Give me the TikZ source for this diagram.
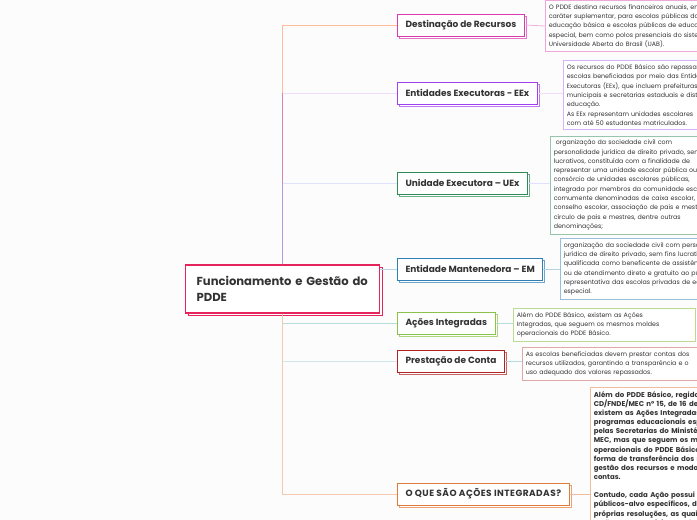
\documentclass[tikz,border=0pt]{standalone}
\usepackage{fontspec}
\setmainfont{Poppins}
\usetikzlibrary{shadows}

\definecolor{ink}{HTML}{333333}
\definecolor{paper}{HTML}{FCFCFC}
\definecolor{rootc}{HTML}{E5245E}
\definecolor{destc}{HTML}{DA3AB0}
\definecolor{eexc}{HTML}{A040F0}
\definecolor{uexc}{HTML}{2E8B57}
\definecolor{emc}{HTML}{2F7FB5}
\definecolor{acoc}{HTML}{8BC34A}
\definecolor{presc}{HTML}{B22222}
\definecolor{oquec}{HTML}{E07B39}

\begin{document}
\begin{tikzpicture}[x=1pt,y=-1pt,
	every node/.style={font=\fontsize{6.3}{9.3}\selectfont, text=ink},
	hub/.style={draw=rootc, line width=1.2pt, fill=white, copy shadow={draw=rootc, fill=white, shadow xshift=2.5pt, shadow yshift=-2.5pt},
		font=\fontsize{11.6}{16}\selectfont\bfseries, align=left, text width=172pt, minimum height=48pt, inner xsep=11pt, anchor=west},
	topic/.style={draw=#1, line width=1pt, fill=white, copy shadow={draw=#1!70, fill=white, shadow xshift=2pt, shadow yshift=-2pt},
		font=\fontsize{9}{10}\selectfont\bfseries, minimum height=22pt, inner xsep=8pt, anchor=west},
	note/.style={draw=#1, line width=0.6pt, fill=white, align=left, anchor=west, inner xsep=3.5pt, inner ysep=4pt},
	link/.style={draw=#1, line width=1pt}]
	\fill[paper] (0,0) rectangle (697,520);
	\useasboundingbox (0,0) rectangle (697,520);
	\clip (0,0) rectangle (697,520);

	% main topics
	\node[hub] (root) at (185,289) {Funcionamento e Gestão do\\PDDE};
	\node[topic=destc] (dest) at (397,25) {Destinação de Recursos};
	\node[topic=eexc] (eex) at (397,93) {Entidades Executoras - EEx};
	\node[topic=uexc] (uex) at (397,183) {Unidade Executora -- UEx};
	\node[topic=emc] (em) at (397,269) {Entidade Mantenedora -- EM};
	\node[topic=acoc] (aco) at (397,323) {Ações Integradas};
	\node[topic=presc] (pres) at (397,361) {Prestação de Conta};
	\node[topic=oquec] (oque) at (397,494) {\addfontfeature{LetterSpace=5}O QUE SÃO AÇÕES INTEGRADAS?};

	% notes
	\node[note=destc!45, text width=200pt] (ndest) at (545,26) {O PDDE destina recursos financeiros anuais, em\\caráter suplementar, para escolas públicas da\\educação básica e escolas públicas de educação\\especial, bem como polos presenciais do sistema\\Universidade Aberta do Brasil (UAB).};
	\node[note=eexc!40, text width=200pt] (neex) at (563,95) {Os recursos do PDDE Básico são repassados às\\escolas beneficiadas por meio das Entidades\\Executoras (EEx), que incluem prefeituras\\municipais e secretarias estaduais e distritais de\\educação.\\As EEx representam unidades escolares\\com até 50 estudantes matriculados.};
	\node[note=uexc!50, text width=200pt] (nuex) at (550,185) {\ organização da sociedade civil com\\personalidade jurídica de direito privado, sem fins\\lucrativos, constituída com a finalidade de\\representar uma unidade escolar pública ou um\\consórcio de unidades escolares públicas,\\integrada por membros da comunidade escolar,\\comumente denominadas de caixa escolar,\\conselho escolar, associação de pais e mestres,\\círculo de pais e mestres, dentre outras\\denominações;};
	\node[note=emc!50, text width=200pt] (nem) at (560,269) {organização da sociedade civil com personalidade\\jurídica de direito privado, sem fins lucrativos,\\qualificada como beneficente de assistência social,\\ou de atendimento direto e gratuito ao público,\\representativa das escolas privadas de educação\\especial.};
	\node[note=acoc!60, text width=175pt] (naco) at (513,325) {Além do PDDE Básico, existem as Ações\\Integradas, que seguem os mesmos moldes\\operacionais do PDDE Básico.};
	\node[note=presc!40, text width=200pt] (npres) at (522,364) {As escolas beneficiadas devem prestar contas dos\\recursos utilizados, garantindo a transparência e o\\uso adequado dos valores repassados.};
	\node[note=oquec!50, text width=200pt, anchor=north west, font=\fontsize{7}{9.15}\selectfont\bfseries] (noque) at (590,387) {Além do PDDE Básico, regido pela Resolução\\CD/FNDE/MEC nº 15, de 16 de setembro de 2021,\\existem as Ações Integradas, que são\\programas educacionais específicos criados\\pelas Secretarias do Ministério da Educação -\\MEC, mas que seguem os mesmos moldes\\operacionais do PDDE Básico quanto à\\forma de transferência dos recursos,\\gestão dos recursos e modo de prestação de\\contas.\\[9.1pt]Contudo, cada Ação possui finalidades e\\públicos-alvo específicos, descritos em suas\\próprias resoluções, as quais\\estão sempre sujeitas a alterações.};

	% connectors
	\draw[link=red!30!orange!40] (root.north) |- (dest.west);
	\draw[link=eexc!18] (root.north) |- (eex.west);
	\draw[link=violet!30!pink] (root.north) -- (root.north |- eex.west);
	\draw[link=blue!12] (root.north) |- (uex.west);
	\draw[link=blue!45!violet!40] (root.north) -- (root.north |- uex.west);
	\draw[link=teal!28] (root.south) |- (aco.west);
	\draw[link=teal!18] (root.south) |- (pres.west);
	\draw[link=oquec!40] (root.south) |- (oque.west);
	\draw[link=emc!35] (root.east |- em.west) -- (em.west);
	\draw[link=destc!40, line width=0.8pt] (dest.east) -- (ndest.west);
	\draw[link=eexc!18, line width=0.8pt] (eex.east) -- (eex.east -| neex.west);
	\draw[link=blue!12, line width=0.8pt] (uex.east) -- (uex.east -| nuex.west);
	\draw[link=emc!35, line width=0.8pt] (em.east) -- (nem.west);
	\draw[link=teal!28, line width=0.8pt] (aco.east) -- (aco.east -| naco.west);
	\draw[link=teal!28, line width=0.8pt] (pres.east) -- (pres.east -| npres.west);
	\draw[link=oquec!50, line width=0.8pt] (oque.east) -- (oque.east -| noque.west);
\end{tikzpicture}
\end{document}
